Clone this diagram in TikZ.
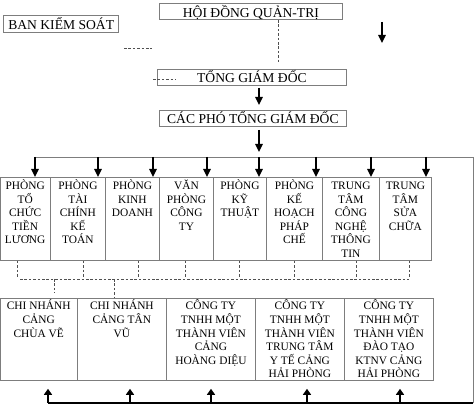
\documentclass[tikz,border=0pt]{standalone}
\usepackage{fontspec}
\setmainfont{Liberation Serif}
\usetikzlibrary{arrows.meta}
\definecolor{bord}{RGB}{125,125,125}
\definecolor{dsh}{RGB}{80,80,80}
\newcommand{\cellbox}[4]{\parbox[t][#2][t]{#1}{\centering\rule{0pt}{#3}#4}}
\begin{document}
\begin{tikzpicture}[x=1pt,y=-1pt,
  topbox/.style={draw=bord, line width=0.8pt, inner xsep=0pt, inner ysep=0pt,
    anchor=north west, font=\fontsize{13.6}{15}\selectfont},
  cell/.style={draw=bord, line width=0.8pt, inner sep=0pt, anchor=north west,
    font=\fontsize{11.4}{13.6}\selectfont},
  arr/.style={-{Triangle[length=8pt,width=7.5pt]}, line width=1.4pt, black},
  arrup/.style={-{Triangle[length=6pt,width=8pt]}, line width=1.4pt, black},
  dline/.style={dash pattern=on 2.6pt off 1.8pt, line width=0.9pt, dsh},
  busline/.style={bord, line width=0.9pt}]
\useasboundingbox (0,0) rectangle (474,419);

% top boxes
\node[topbox, minimum width=183pt, text height=13.4pt, text depth=2.6pt] (hdqt) at (159,3.3) {HỘI ĐỒNG QUẢN-TRỊ};
\node[topbox, minimum width=115pt, text height=14.3pt, text depth=3pt] (bks) at (3.3,15) {BAN KIỂM SOÁT};
\node[topbox, minimum width=189pt, text height=13.3pt, text depth=2.7pt] (tgd) at (157,69) {TỔNG GIÁM ĐỐC};
\node[topbox, minimum width=187pt, text height=13.3pt, text depth=2.7pt] (cp) at (159,110) {CÁC PHÓ TỔNG GIÁM ĐỐC};

% departments
\node[cell] (d1) at (-0.4,177) {\cellbox{50.4pt}{83pt}{12.2pt}{PHÒNG\\TỔ\\CHỨC\\TIỀN\\LƯƠNG}};
\node[cell] (d2) at (50,177) {\cellbox{55pt}{83pt}{12.2pt}{PHÒNG\\TÀI\\CHÍNH\\KẾ\\TOÁN}};
\node[cell] (d3) at (105,177) {\cellbox{54pt}{83pt}{12.2pt}{PHÒNG\\KINH\\DOANH}};
\node[cell] (d4) at (159,177) {\cellbox{54pt}{83pt}{12.2pt}{VĂN\\PHÒNG\\CÔNG\\TY}};
\node[cell] (d5) at (213,177) {\cellbox{53pt}{83pt}{12.2pt}{PHÒNG\\KỸ\\THUẬT}};
\node[cell] (d6) at (266,177) {\cellbox{56pt}{83pt}{12.2pt}{PHÒNG\\KẾ\\HOẠCH\\PHÁP\\CHẾ}};
\node[cell] (d7) at (322,177) {\cellbox{57pt}{83pt}{12.2pt}{TRUNG\\TÂM\\CÔNG\\NGHỆ\\THÔNG\\TIN}};
\node[cell] (d8) at (379,177) {\cellbox{52pt}{83pt}{12.2pt}{TRUNG\\TÂM\\SỬA\\CHỮA}};

% bottom row
\node[cell] (b1) at (-0.4,298) {\cellbox{77.4pt}{82pt}{11.5pt}{CHI NHÁNH\\CẢNG\\CHÙA VẼ}};
\node[cell] (b2) at (77,298) {\cellbox{89pt}{82pt}{11.5pt}{CHI NHÁNH\\CẢNG TÂN\\VŨ}};
\node[cell] (b3) at (166,298) {\cellbox{89pt}{82pt}{11.5pt}{CÔNG TY\\TNHH MỘT\\THÀNH VIÊN\\CẢNG\\HOÀNG DIỆU}};
\node[cell] (b4) at (255,298) {\cellbox{89pt}{82pt}{11.5pt}{CÔNG TY\\TNHH MỘT\\THÀNH VIÊN\\TRUNG TÂM\\Y TẾ CẢNG\\HẢI PHÒNG}};
\node[cell] (b5) at (344,298) {\cellbox{89pt}{82pt}{11.5pt}{CÔNG TY\\TNHH MỘT\\THÀNH VIÊN\\ĐÀO TẠO\\KTNV CẢNG\\HẢI PHÒNG}};

% dashed links at top
\coordinate (hd1) at (278,63);
\draw[dline] (hd1 |- hdqt.south) -- (hd1);
\coordinate (bk1) at (124,48);
\coordinate (bk2) at (152,48);
\draw[dline] (bk1) -- (bk2);
\coordinate (tg1) at (153,79);
\coordinate (tg2) at (176,79);
\draw[dline] (tg1) -- (tg2);

% free arrow
\coordinate (sa1) at (382,22);
\coordinate (sa2) at (382,43);
\draw[arr] (sa1) -- (sa2);

% bus and loop
\coordinate (busL) at (35,157);
\coordinate (busR) at (473,157);
\coordinate (loopB) at (473,403);
\coordinate (botL) at (48,403);
\draw[busline] (busL) -- (busR) -- (loopB);
\draw[line width=1.3pt] (loopB) -- (botL);

% main vertical arrows
\coordinate (t5) at (259,157);
\draw[arr, shorten <=2pt, shorten >=5pt] (t5 |- tgd.south) -- (t5 |- cp.north);
\draw[arr, shorten <=3pt, shorten >=5pt] (t5 |- cp.south) -- (t5);

% arrows down to departments
\foreach \x/\n in {35/1,98/2,153/3,207/4,259/5,316/6,371/7,426/8}{
  \coordinate (t\n) at (\x,157);
  \draw[arr] (t\n) -- (t\n |- d\n.north);
}

% arrows up from the bottom line
\foreach \x/\n in {48/1,130/2,211/3,307/4,400/5}{
  \coordinate (u\n) at (\x,403);
  \draw[arrup, shorten >=8pt] (u\n) -- (u\n |- b\n.south);
}

% dashed links between rows
\coordinate (dh1) at (20,279);
\coordinate (dh2) at (409,279);
\draw[dline] (dh1) -- (dh2);
\foreach \x/\n in {17/1,83/2,138/3,185/4,239/5,294/6,356/7,409/8}{
  \coordinate (v\n) at (\x,278);
  \draw[dline] (v\n |- d\n.south) -- (v\n);
}
\coordinate (m1) at (54,293);
\draw[dline] (m1 |- dh1) -- (m1);
\coordinate (m2) at (114,279);
\draw[dline] (m2) -- (m2 |- b2.north);
\end{tikzpicture}
\end{document}
